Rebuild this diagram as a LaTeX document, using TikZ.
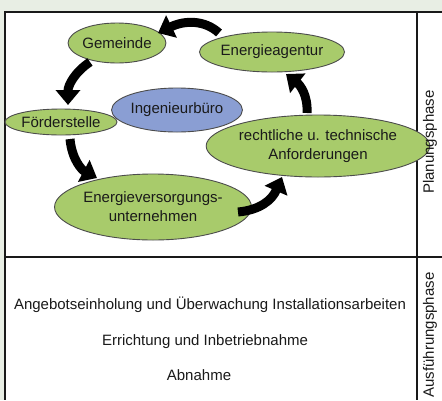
\documentclass[tikz,border=0pt]{standalone}
\usepackage{fontspec}
\setmainfont{Liberation Sans}
\usetikzlibrary{shapes.geometric,arrows.meta}
\definecolor{bgc}{HTML}{E8EEE4}
\definecolor{grn}{HTML}{A8CB6B}
\definecolor{blu}{HTML}{8A9ED3}
\definecolor{txtc}{HTML}{1A1A1A}
\begin{document}
\begin{tikzpicture}[x=1pt,y=-1pt,
  ell/.style={ellipse,draw=black!70,line width=0.9pt,fill=grn,inner sep=0pt,font=\fontsize{15}{19}\selectfont,align=center,text=txtc},
  bigarrow/.style={line width=9pt,-{Triangle[width=24pt,length=15pt]}},
  txt/.style={font=\fontsize{15}{17}\selectfont,text=txtc},
  frame/.style={line width=2pt,draw=black!90}]
\useasboundingbox (0,0) rectangle (442,400);
\fill[bgc] (0,0) rectangle (442,400);
\fill[white] (4.5,12) rectangle (442,400);
\draw[frame] (442,12) -- (4.5,12) -- (4.5,400);
\draw[frame] (4.5,257) -- (442,257);
\draw[frame] (416.5,12) -- (416.5,400);

\node[ell,minimum width=78pt,minimum height=40pt] (gem) at (117,43) {Gemeinde};
\node[ell,minimum width=114pt,minimum height=40pt] (ea) at (272,52) {Energieagentur};
\node[ell,fill=blu,minimum width=104pt,minimum height=44pt] (ib) at (177,110) {Ingenieurbüro};
\node[ell,minimum width=90pt,minimum height=26pt] (fs) at (61,122) {Förderstelle};
\node[ell,minimum width=184pt,minimum height=62pt] (ra) at (318,146) {rechtliche u. technische\\Anforderungen};
\node[ell,minimum width=154pt,minimum height=66pt] (evu) at (153,207) {Energieversorgungs-\\unternehmen};

\coordinate (a1s) at (219,33);  \coordinate (a1e) at (158,33);
\coordinate (a2s) at (90,62);   \coordinate (a2e) at (68,105);
\coordinate (a3s) at (70,139);  \coordinate (a3e) at (97,178);
\coordinate (a4s) at (238,212); \coordinate (a4e) at (282,177);
\coordinate (a5s) at (307,113); \coordinate (a5e) at (286,74);

\draw[bigarrow] (a1s) .. controls (205,20) and (185,20) .. (a1e);
\draw[bigarrow] (a2s) .. controls (75,72) and (68,85) .. (a2e);
\draw[bigarrow] (a3s) .. controls (72,160) and (82,170) .. (a3e);
\draw[bigarrow] (a4s) .. controls (260,210) and (272,200) .. (a4e);
\draw[bigarrow] (a5s) .. controls (308,95) and (300,85) .. (a5e);

\node[txt,rotate=90] (pp) at (430,142) {Planungsphase};
\node[txt,rotate=90] (ap) at (430,335) {Ausführungsphase};

\node[txt] (t1) at (210,305) {Angebotseinholung und Überwachung Installationsarbeiten};
\node[txt] (t2) at (205,342) {Errichtung und Inbetriebnahme};
\node[txt] (t3) at (199,375) {Abnahme};
\end{tikzpicture}
\end{document}
